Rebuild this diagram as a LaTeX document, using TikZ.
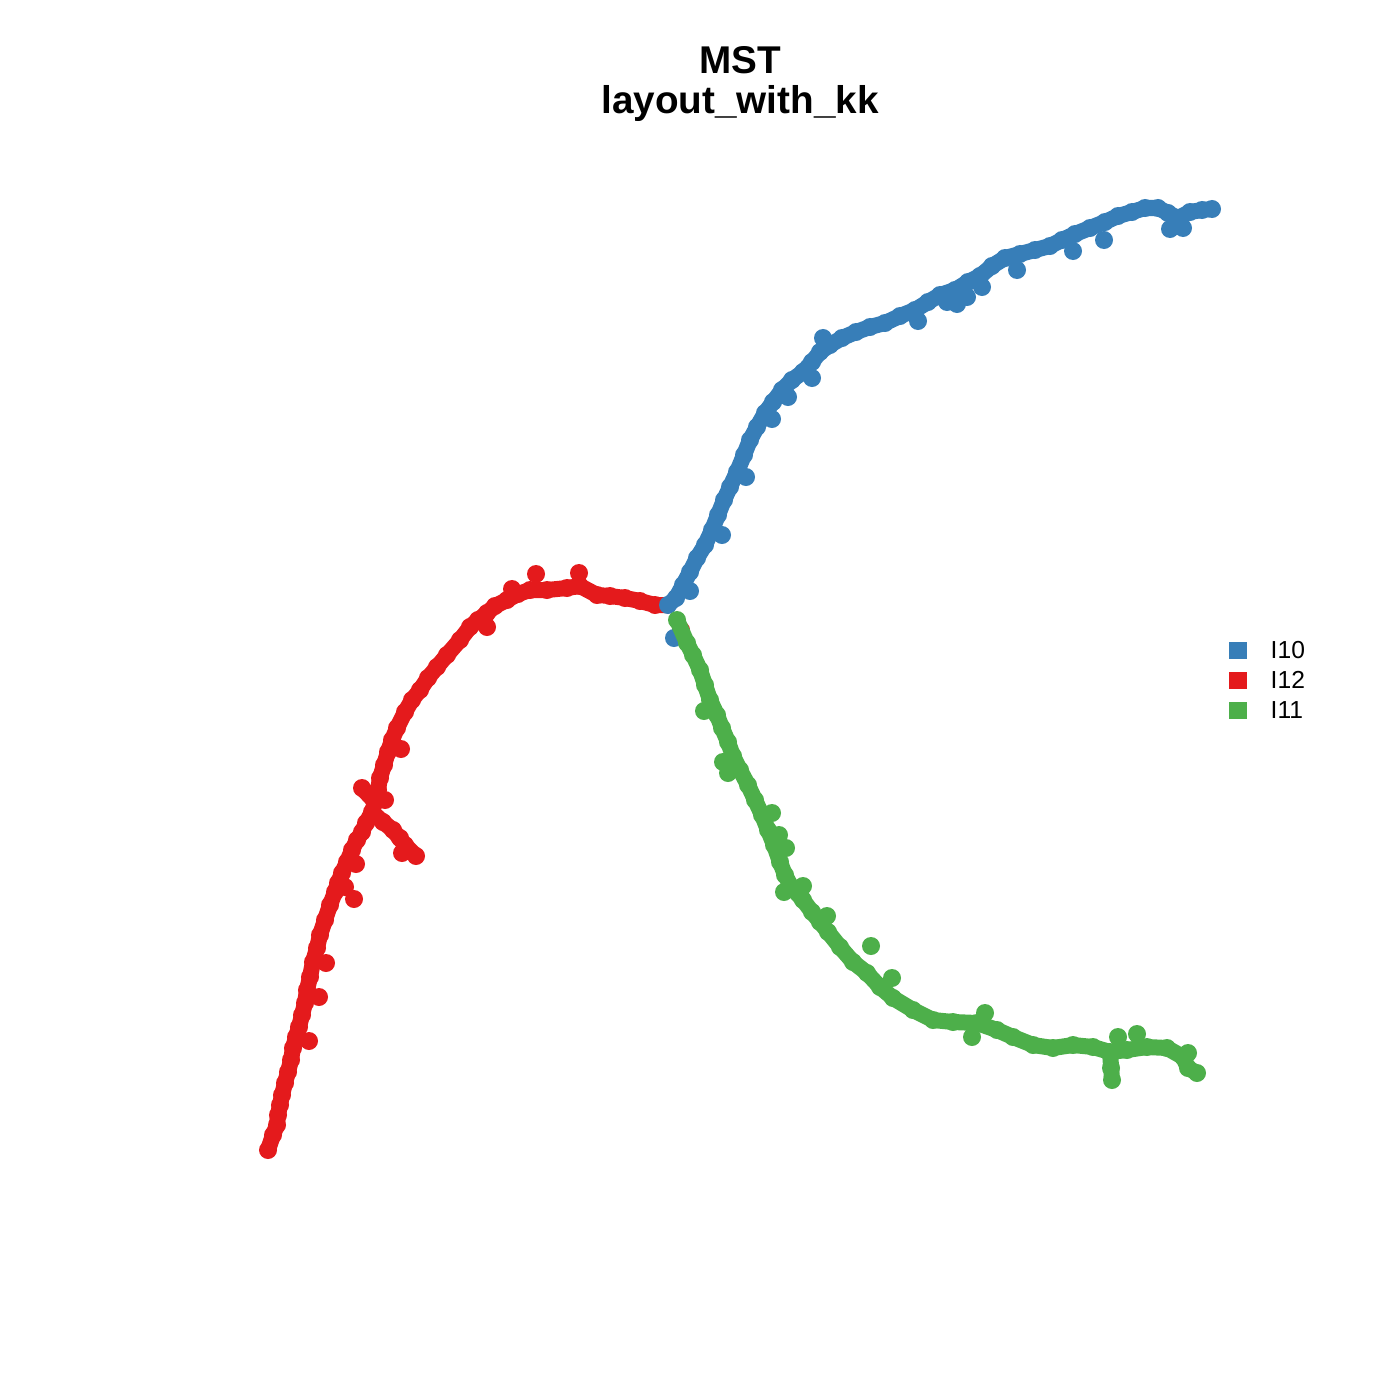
\documentclass[tikz,border=0pt]{standalone}
\usepackage{fontspec}
\setmainfont{Liberation Sans}
\definecolor{cbl}{HTML}{377EB8}
\definecolor{cre}{HTML}{E41A1C}
\definecolor{cgr}{HTML}{4DAF4A}
\tikzset{
  branch/.style={line width=0.16cm,line cap=round,line join=round},
  legkey/.style={minimum width=0.18cm,minimum height=0.17cm,inner sep=0pt},
  legtxt/.style={anchor=west,font=\fontsize{7}{8}\selectfont,inner sep=0pt},
}
\begin{document}
\begin{tikzpicture}[x=0.01cm,y=-0.01cm]
				\def \r{0.09cm}
				\useasboundingbox (0,0) rectangle (1400,1400);
				% title
				\node[font=\fontsize{11}{11.3}\selectfont\bfseries,align=center] (title) at (740,84) {MST\\layout\_with\_kk};
				% red branch
				\def \redpts{(655,605),(640,601),(625,598),(610,596),(597,595),(580,586),(567,588),(547,590),(530,590),(518,594),(507,600),(495,606),(487,613),(478,620),(470,627),(460,640),(447,655),(437,667),(428,678),(420,690),(412,700),(405,712),(397,728),(392,740),(388,752),(384,765),(380,778),(378,790),(375,802),(372,812),(366,823),(362,832),(357,840),(352,850),(347,862),(342,873),(338,883),(335,892),(330,905),(325,920),(320,935),(317,948),(313,962),(310,977),(307,990),(305,1003),(302,1015),(299,1027),(296,1037),(293,1048),(291,1060),(288,1072),(285,1083),(282,1095),(280,1105),(278,1115),(277,1125),(273,1135),(268,1150)}
				\draw[branch,cre] (668,605) \foreach \p in \redpts {-- \p};
				\draw[branch,cre] (372,812)--(383,822)--(393,830)--(405,845)--(416,856);
				\draw[branch,cre] (362,788)--(375,802);
				\foreach \p in \redpts \fill[cre] \p circle(\r);
				\foreach \p in {(383,822),(393,830),(400,838),(405,845),(416,856),(402,853),(362,788),(385,800),
				  (536,574),(579,573),(512,589),(487,627),(401,749),(356,864),(345,887),(354,899),(326,963),(319,997),(309,1041),(681,630)}
				  \fill[cre] \p circle(\r);
				% blue branch
				\def \bluepts{(676,598),(683,585),(690,572),(697,558),(705,545),(712,530),(718,515),(724,500),(730,487),(737,472),(744,455),(750,440),(757,427),(765,413),(773,402),(782,390),(792,380),(803,372),(812,362),(820,352),(830,345),(842,338),(856,332),(870,327),(885,323),(900,316),(915,310),(928,302),(940,295),(955,290),(968,282),(980,276),(992,266),(1005,258),(1020,254),(1035,250),(1050,246),(1062,240),(1075,234),(1090,228),(1105,222),(1118,216),(1132,212),(1145,208),(1158,208),(1168,213),(1178,218),(1190,212),(1202,210),(1212,209)}
				\draw[branch,cbl] (668,605) \foreach \p in \bluepts {-- \p};
				\fill[cbl] (668,605) circle(\r);
				\foreach \p in \bluepts \fill[cbl] \p circle(\r);
				\foreach \p in {(690,591),(722,535),(746,477),(772,419),(788,397),(812,378),(823,338),(918,321),(947,302),(957,304),(967,297),
				  (982,287),(1017,270),(1073,251),(1104,240),(1170,229),(1183,228),(674,638)}
				  \fill[cbl] \p circle(\r);
				% green branch
				\def \greenpts{(687,643),(693,655),(700,670),(705,685),(710,700),(717,715),(722,728),(728,742),(733,756),(740,770),(748,785),(755,800),(762,815),(768,830),(774,845),(780,862),(785,875),(792,888),(803,900),(812,912),(820,922),(828,932),(840,947),(853,962),(867,973),(880,987),(893,998),(913,1010),(933,1020),(953,1022),(977,1023),(997,1030),(1013,1037),(1033,1045),(1053,1048),(1073,1045),(1093,1047),(1110,1052),(1127,1050),(1147,1047),(1167,1048),(1183,1057),(1188,1068),(1197,1073)}
				\draw[branch,cgr] (677,620) \foreach \p in \greenpts {-- \p};
				\draw[branch,cgr] (1110,1052)--(1112,1080);
				\fill[cgr] (677,620) circle(\r);
				\foreach \p in \greenpts \fill[cgr] \p circle(\r);
				\foreach \p in {(704,711),(723,762),(728,773),(772,813),(779,835),(786,848),(784,892),(803,886),(827,916),(871,946),(892,978),
				  (985,1013),(972,1037),(1118,1037),(1137,1034),(1111,1068),(1112,1080),(1188,1053)}
				  \fill[cgr] \p circle(\r);
				% legend
				\foreach \c/\t/\y [count=\i] in {cbl/I10/650,cre/I12/680,cgr/I11/710}{
				  \node[legkey,fill=\c] (key\i) at (1238,\y) {};
				  \node[legtxt] (lab\i) at (1270,\y) {\t};
				}
			\end{tikzpicture}
\end{document}
